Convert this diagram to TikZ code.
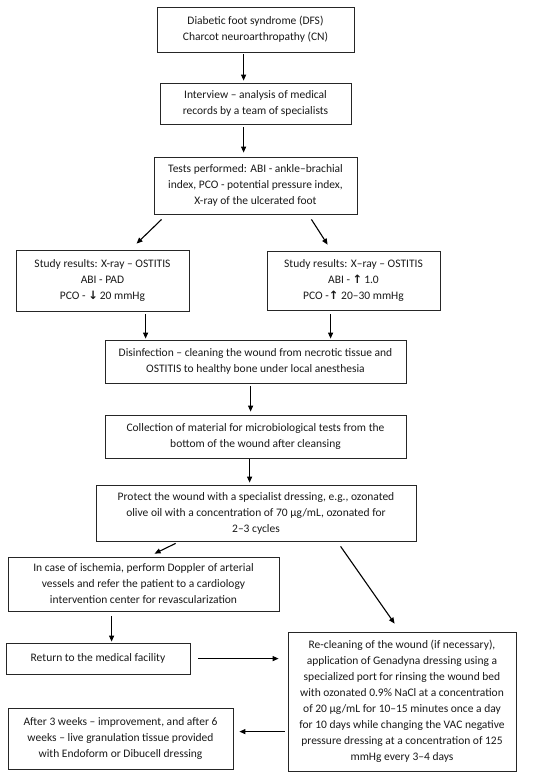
\documentclass[tikz,border=0pt]{standalone}
\usepackage{fontspec}
\setmainfont{Carlito}
\newfontfamily\symfont{DejaVu Sans}
\usetikzlibrary{arrows.meta,calc}
\newcommand{\upar}{{\symfont\bfseries ↑}}
\newcommand{\dnar}{{\symfont\bfseries ↓}}
\begin{document}
\begin{tikzpicture}[x=1pt,y=-1pt,
  box/.style={draw=black!85, line width=0.8pt, align=center, inner sep=0pt,
    font=\fontsize{11.5}{16}\selectfont, text=black!90},
  arr/.style={-{Triangle[length=6pt,width=5pt]}, line width=1.1pt, black}]
\useasboundingbox (0,0) rectangle (550,778);
\node[box, minimum width=197, minimum height=45] (b1) at (255.5,29.5)
  {Diabetic foot syndrome (DFS)\\Charcot neuroarthropathy (CN)};
\node[box, minimum width=191, minimum height=41] (b2) at (255.5,103.5)
  {Interview -- analysis of medical\\records by a team of specialists};
\node[box, minimum width=203, minimum height=57] (b3) at (255.5,185.5)
  {Tests performed: ABI - ankle--brachial\\index, PCO - potential pressure index,\\X-ray of the ulcerated foot};
\node[box, minimum width=173, minimum height=61] (bL) at (102.5,280.5)
  {Study results: X-ray -- OSTITIS\\ABI - PAD\\PCO - \dnar\,20 mmHg};
\node[box, minimum width=173, minimum height=59] (bR) at (353.5,280.5)
  {Study results: X--ray -- OSTITIS\\ABI - \upar\,1.0\\PCO -\upar\ 20--30 mmHg};
\node[box, minimum width=301, minimum height=43] (b4) at (255.5,361.5)
  {Disinfection -- cleaning the wound from necrotic tissue and\\OSTITIS to healthy bone under local anesthesia};
\node[box, minimum width=301, minimum height=43] (b5) at (255.5,436.5)
  {Collection of material for microbiological tests from the\\bottom of the wound after cleansing};
\node[box, minimum width=320, minimum height=56] (b6) at (256,513)
  {Protect the wound with a specialist dressing, e.g., ozonated\\olive oil with a concentration of 70 µg/mL, ozonated for\\2--3 cycles};
\node[box, minimum width=271, minimum height=54] (b7) at (143.5,584)
  {In case of ischemia, perform Doppler of arterial\\vessels and refer the patient to a cardiology\\intervention center for revascularization};
\node[box, minimum width=184, minimum height=31] (b8) at (98,658.5)
  {Return to the medical facility};
\node[box, minimum width=228, minimum height=139] (b9) at (402,701.5)
  {Re-cleaning of the wound (if necessary),\\application of Genadyna dressing using a\\specialized port for rinsing the wound bed\\with ozonated 0.9\% NaCl at a concentration\\of 20 µg/mL for 10--15 minutes once a day\\for 10 days while changing the VAC negative\\pressure dressing at a concentration of 125\\mmHg every 3--4 days};
\node[box, minimum width=225, minimum height=61] (b10) at (120.5,738.5)
  {After 3 weeks -- improvement, and after 6\\weeks -- live granulation tissue provided\\with Endoform or Dibucell dressing};
\draw[arr] ($(b1.south west)+(87,2)$) -- ($(b2.north west)+(84,-2)$);
\draw[arr] ($(b2.south west)+(84,3)$) -- ($(b3.north west)+(90,-4)$);
\draw[arr] ($(b3.south west)+(8,5)$) -- ($(bL.north west)+(121,-6)$);
\draw[arr] ($(b3.south east)+(-46,5)$) -- ($(bR.north west)+(61,-6)$);
\draw[arr] ($(bL.south west)+(130,3)$) -- ($(b4.north west)+(41,-1)$);
\draw[arr] ($(bR.south west)+(64,4)$) -- ($(b4.north west)+(226,-1)$);
\draw[arr] ($(b4.south west)+(146,3)$) -- ($(b5.north west)+(146,-3)$);
\draw[arr] ($(b5.south west)+(145,1)$) -- ($(b6.north west)+(154,-2)$);
\draw[arr] ($(b6.south west)+(80,2)$) -- ($(b7.north west)+(147,-3)$);
\draw[arr] ($(b6.south west)+(245,5)$) -- ($(b9.north west)+(107,-8)$);
\draw[arr] ($(b7.south west)+(104,5)$) -- ($(b8.north west)+(106,-1)$);
\draw[arr] ($(b8.north east)+(8,16)$) -- ($(b9.north west)+(-9,27)$);
\draw[arr] ($(b9.north west)+(-3,100)$) -- ($(b10.north east)+(6,24)$);
\end{tikzpicture}
\end{document}
